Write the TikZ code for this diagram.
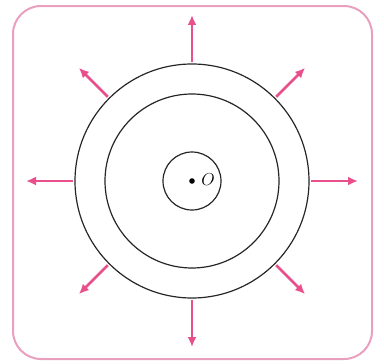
\documentclass[tikz,border=0pt]{standalone}
\usetikzlibrary{arrows.meta}
\definecolor{framepink}{RGB}{232,160,190}
\definecolor{raypink}{RGB}{232,80,140}
\begin{document}
\begin{tikzpicture}[
  x=1pt,
  y=-1pt,
  frame/.style={draw=framepink, line width=2pt, rounded corners=28pt},
  ring/.style={draw=black!85, line width=1.2pt},
  ray/.style={draw=raypink!65, line width=2.6pt, -{Latex[length=10pt,width=9pt]}, color=raypink},
  label/.style={font=\LARGE, inner sep=0pt}
]
\useasboundingbox (0,0) rectangle (384,364);

\draw[frame] (13,6) rectangle (372,359);

\coordinate (o) at (192,181);
\draw[ring] (o) circle[radius=117];
\draw[ring] (o) circle[radius=87];
\draw[ring] (o) circle[radius=29];
\fill (o) circle[radius=2.8];
\node[label] (lbl) at (208,180) {$O$};

\foreach \a in {0,90,180,270} {
  \coordinate (in\a) at ([shift={(\a:119)}]o);
  \coordinate (out\a) at ([shift={(\a:166)}]o);
  \draw[ray] (in\a) -- (out\a);
}
\foreach \a in {45,135,225,315} {
  \coordinate (in\a) at ([shift={(\a:119)}]o);
  \coordinate (out\a) at ([shift={(\a:160)}]o);
  \draw[ray] (in\a) -- (out\a);
}
\end{tikzpicture}
\end{document}
